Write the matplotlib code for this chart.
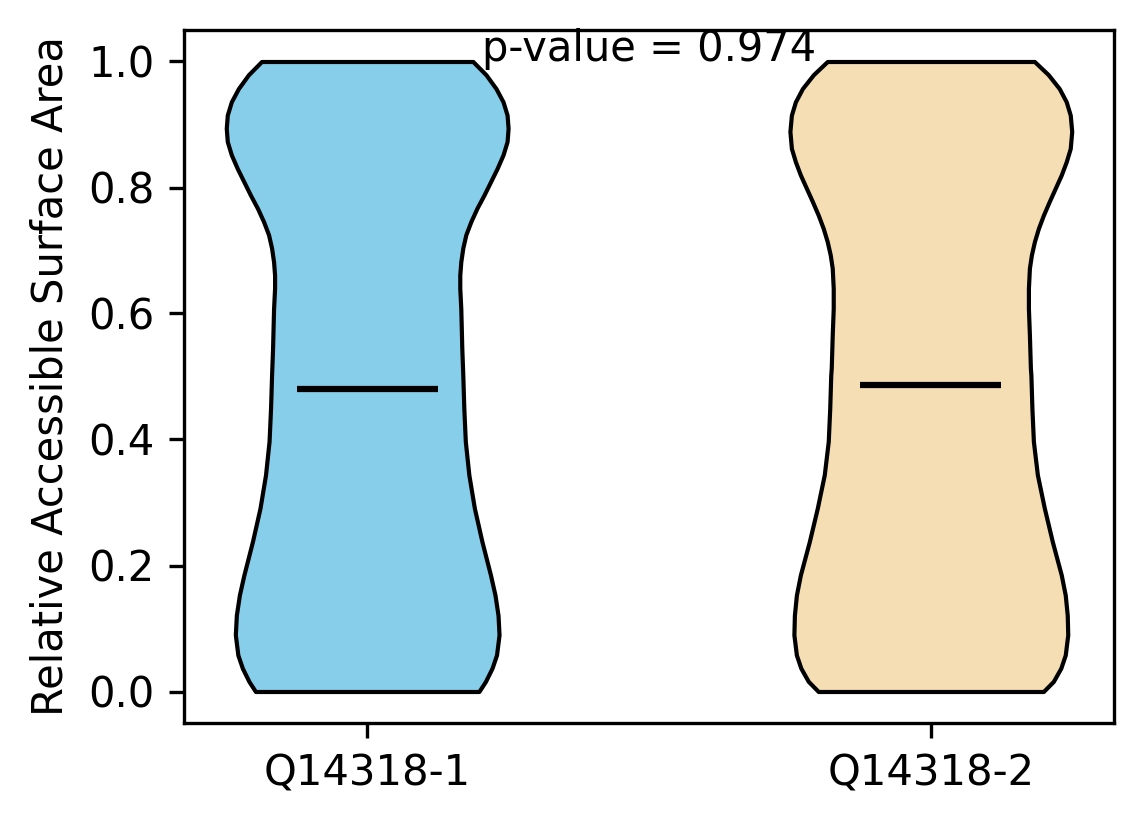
import matplotlib
matplotlib.use("Agg")
import matplotlib.pyplot as plt

# protein isoform labels
labels = ["Q14318-1", "Q14318-2"]
colors = ["skyblue", "wheat"]

# violin outlines: RSA level and relative half-width
rsa_1 = [0.000, 0.016, 0.037, 0.058, 0.090, 0.121, 0.153, 0.185, 0.238, 0.291,
         0.344, 0.397, 0.450, 0.502, 0.545, 0.577, 0.608, 0.640, 0.661, 0.682,
         0.704, 0.725, 0.746, 0.767, 0.788, 0.809, 0.830, 0.852, 0.873, 0.894,
         0.915, 0.936, 0.957, 0.979, 1.000]
width_1 = [111, 117.5, 124, 128.5, 131, 130, 127, 122.5, 114, 106.5,
           101, 97.5, 96, 95, 94, 93.5, 93, 92, 92, 93,
           95, 98, 103, 109, 116, 122.5, 129, 135, 139, 140,
           139, 135, 128, 118, 105]

rsa_2 = [0.000, 0.016, 0.037, 0.058, 0.090, 0.121, 0.153, 0.185, 0.238, 0.291,
         0.344, 0.397, 0.450, 0.502, 0.513, 0.566, 0.608, 0.640, 0.672, 0.693,
         0.714, 0.735, 0.756, 0.778, 0.799, 0.820, 0.841, 0.862, 0.889, 0.915,
         0.936, 0.957, 0.979, 1.000]
width_2 = [113, 123, 130.5, 135, 137.5, 137, 135, 131, 122, 114,
           107, 103, 101.5, 100.5, 100, 99, 98, 98, 99, 101,
           104, 108, 113, 119, 125, 131, 136, 140, 141.5, 140,
           136, 129, 118, 104]

means = [0.480, 0.487]
p_value = 0.974


def main():
    fig = plt.figure(figsize=(1144 / 300, 824 / 300), dpi=300)
    ax = fig.add_axes([184 / 1144, 101 / 824, 930 / 1144, 693 / 824])

    stats = []
    for rsa, w, m in zip([rsa_1, rsa_2], [width_1, width_2], means):
        stats.append({"coords": rsa, "vals": w, "mean": m, "median": m,
                      "min": min(rsa), "max": max(rsa), "quantiles": []})

    parts = ax.violin(stats, positions=[1, 2], widths=0.5,
                      showmeans=True, showextrema=False, showmedians=False)
    for body, c in zip(parts["bodies"], colors):
        body.set_facecolor(c)
        body.set_edgecolor("black")
        body.set_linewidth(1)
        body.set_alpha(1)
    parts["cmeans"].set_color("black")
    parts["cmeans"].set_linewidth(1.5)

    ax.set_xticks([1, 2])
    ax.set_xticklabels(labels)
    ax.set_xlim(0.675, 2.325)
    ax.set_ylim(-0.05, 1.05)
    ax.set_ylabel("Relative Accessible Surface Area")
    ax.text(1.5, 1.0, f"p-value = {p_value:.3f}", ha="center")

    fig.savefig("out.png", dpi=300)


if __name__ == "__main__":
    main()
